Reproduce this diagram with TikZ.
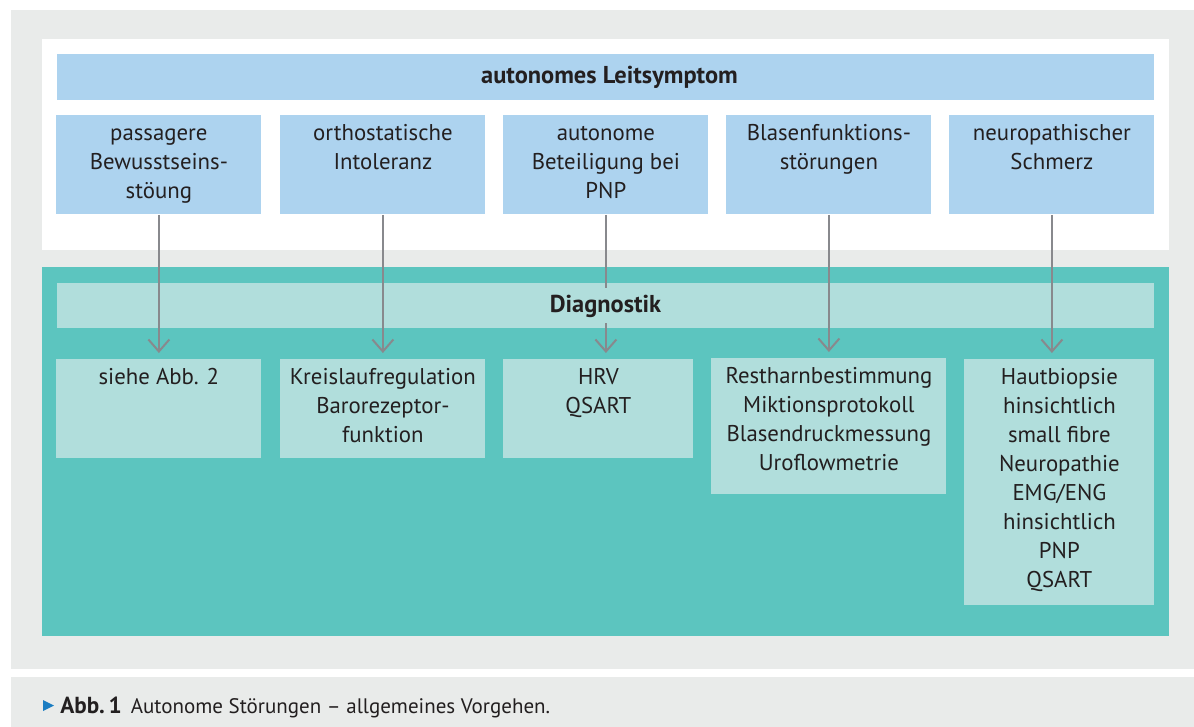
\documentclass[tikz,border=0pt]{standalone}
\usepackage{fontspec}
\setmainfont{PT Sans}
\usetikzlibrary{arrows.meta}

\definecolor{panelgray}{HTML}{E9EBEA}
\definecolor{boxblue}{HTML}{ADD3EF}
\definecolor{tealdark}{HTML}{5CC5BF}
\definecolor{tealpale}{HTML}{B1DEDC}
\definecolor{arrowgray}{HTML}{88898D}
\definecolor{ink}{HTML}{231F20}
\definecolor{markblue}{HTML}{1B7DC2}

% text set at the top of a box of fixed size
\newcommand{\boxtext}[3]{\parbox[c][#2][t]{#1}{\centering\vspace{2.5pt}\strut #3}}

\begin{document}
\begin{tikzpicture}[x=0.5pt, y=-0.5pt,
    font=\fontsize{11.4}{14.5}\selectfont,
    every node/.style={text=ink, inner sep=0pt},
    headbox/.style={fill=boxblue, minimum width=548.5pt, minimum height=23pt, font=\fontsize{12.2}{14.5}\selectfont\bfseries},
    symbox/.style={fill=boxblue, anchor=north west},
    diabox/.style={fill=tealpale, anchor=north west},
    flow/.style={draw=arrowgray, line width=1pt, -{Straight Barb[length=6pt, width=10.5pt]}, shorten >=3pt}]
      \useasboundingbox (0,0) rectangle (1194,727);

      % Panels
      \fill[panelgray] (11,10) rectangle (1194,669);
      \fill[panelgray] (11,677) rectangle (1194,727);
      \fill[white] (42,39) rectangle (1169,250);
      \fill[tealdark] (42,267) rectangle (1169,636);
      \fill[tealpale] (57,283) rectangle (1154,328);

      % Leitsymptome
      \node[headbox] (head) at (605.5,77) {\hspace{4pt}autonomes Leitsymptom};
      \node[symbox] (s1) at (56,115) {\boxtext{102.5pt}{49.5pt}{passagere\\Bewusstseins-\\stöung}};
      \node[symbox] (s2) at (280,115) {\boxtext{102.5pt}{49.5pt}{orthostatische\\Intoleranz}};
      \node[symbox] (s3) at (503,115) {\boxtext{102.5pt}{49.5pt}{autonome\\Beteiligung bei\\PNP}};
      \node[symbox] (s4) at (726,115) {\boxtext{102.5pt}{49.5pt}{Blasenfunktions-\\störungen}};
      \node[symbox] (s5) at (949,115) {\boxtext{102.5pt}{49.5pt}{neuropathischer\\Schmerz}};

      % Diagnostik
      \node[diabox] (d1) at (56,359) {\boxtext{102.5pt}{49.5pt}{siehe Abb. 2}};
      \node[diabox] (d2) at (280,359) {\boxtext{102.5pt}{49.5pt}{Kreislaufregulation\\Barorezeptor-\\funktion}};
      \node[diabox] (d3) at (503,359) {\boxtext{95pt}{49.5pt}{HRV\\QSART}};
      \node[diabox] (d4) at (711,358) {\boxtext{117.5pt}{68pt}{Restharnbestimmung\\Miktionsprotokoll\\Blasendruckmessung\\Uroflowmetrie}};
      \node[diabox] (d5) at (964,359) {\boxtext{95pt}{123pt}{Hautbiopsie\\hinsichtlich\\small fibre\\Neuropathie\\EMG/ENG\\hinsichtlich\\PNP\\QSART}};

      \draw[flow] (s1.south) -- (s1.south |- d1.north);
      \draw[flow] (s2.south) -- (s2.south |- d2.north);
      \draw[flow] (s3.south) -- (s3.south |- d3.north);
      \draw[flow] (s4.south) -- (s4.south |- d4.north);
      \draw[flow] (s5.south) -- (s5.south |- d5.north);

      \node[fill=tealpale, minimum height=17.5pt, inner xsep=2pt, font=\fontsize{12.2}{14.5}\selectfont\bfseries] (diag) at (605.5,306) {Diagnostik};

      % Legende
      \fill[markblue] (43,700) -- (54,705.5) -- (43,711) -- cycle;
      \node[anchor=base west, font=\fontsize{10.5}{12}\selectfont] (caption) at (60,713) {{\fontsize{11.6}{12}\selectfont\bfseries Abb.\,1}\hspace{4.5pt}Autonome Störungen – allgemeines Vorgehen.};
    \end{tikzpicture}
\end{document}
